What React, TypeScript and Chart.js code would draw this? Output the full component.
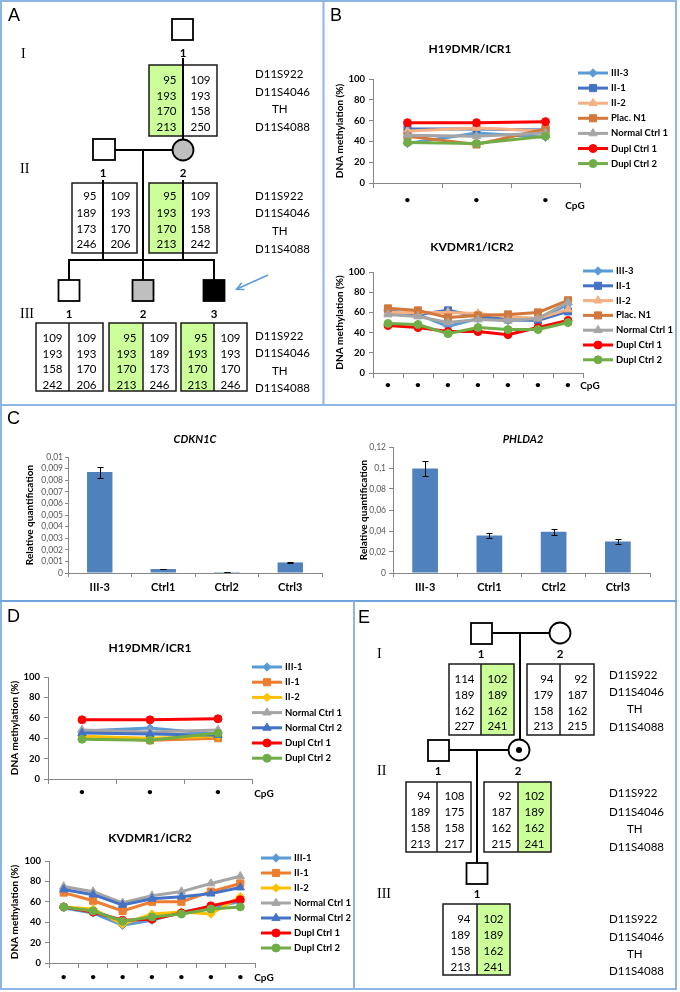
import React, { useEffect, useRef } from "react";
import { Chart, registerables } from "chart.js";
Chart.register(...registerables);

// ---------------- DATA ----------------
const cpg3 = ["•", "•", "•"];
const cpg7 = ["•", "•", "•", "•", "•", "•", "•"];

// Panel B
const bNames = ["III-3", "II-1", "II-2", "Plac. N1", "Normal Ctrl 1", "Dupl Ctrl 1", "Dupl Ctrl 2"];
const bH19_III3 = [38, 48, 44];
const bH19_II1 = [52, 52, 51];
const bH19_II2 = [50, 53, 50];
const bH19_PlacN1 = [45, 37, 52];
const bH19_Normal1 = [46, 45, 48];
const bH19_Dupl1 = [58, 58, 59];
const bH19_Dupl2 = [39, 38, 45];

const bKv_III3 = [62, 58, 46, 54, 52, 53, 68];
const bKv_II1 = [60, 58, 62, 56, 53, 52, 61];
const bKv_II2 = [60, 60, 60, 59, 56, 54, 63];
const bKv_PlacN1 = [64, 62, 55, 57, 58, 60, 72];
const bKv_Normal1 = [58, 56, 50, 53, 52, 54, 70];
const bKv_Dupl1 = [47, 45, 41, 41, 38, 45, 52];
const bKv_Dupl2 = [49, 48, 39, 45, 43, 43, 50];

// Panel D
const dNames = ["III-1", "II-1", "II-2", "Normal Ctrl 1", "Normal Ctrl 2", "Dupl Ctrl 1", "Dupl Ctrl 2"];
const dH19_III1 = [47, 50, 44];
const dH19_II1 = [41, 38, 40];
const dH19_II2 = [42, 40, 42];
const dH19_Normal1 = [48, 46, 48];
const dH19_Normal2 = [45, 44, 43];
const dH19_Dupl1 = [58, 58, 59];
const dH19_Dupl2 = [39, 38, 45];

const dKv_III1 = [54, 49, 37, 42, 50, 55, 60];
const dKv_II1 = [69, 61, 51, 60, 60, 70, 78];
const dKv_II2 = [55, 53, 38, 48, 50, 48, 65];
const dKv_Normal1 = [75, 70, 59, 66, 70, 78, 85];
const dKv_Normal2 = [72, 67, 57, 63, 65, 68, 74];
const dKv_Dupl1 = [55, 50, 42, 43, 49, 56, 62];
const dKv_Dupl2 = [55, 51, 41, 45, 48, 53, 55];

// Panel C
const qCats = ["III-3", "Ctrl1", "Ctrl2", "Ctrl3"];
const cdkn1cValues = [0.0087, 0.00034, 0.00008, 0.00091];
const cdkn1cErrors = [0.00048, 0.00003, 0.00001, 0.00005];
const phlda2Values = [0.0995, 0.0358, 0.0392, 0.0300];
const phlda2Errors = [0.0075, 0.0025, 0.0028, 0.0020];

// Pedigrees
const markerNames = ["D11S922", "D11S4046", "TH", "D11S4088"];
const aI1Left = [95, 193, 170, 213];
const aI1Right = [109, 193, 158, 250];
const aII1Left = [95, 189, 173, 246];
const aII1Right = [109, 193, 170, 206];
const aII2Left = [95, 193, 170, 213];
const aII2Right = [109, 193, 158, 242];
const aIII1Left = [109, 193, 158, 242];
const aIII1Right = [109, 193, 170, 206];
const aIII2Left = [95, 193, 170, 213];
const aIII2Right = [109, 189, 173, 246];
const aIII3Left = [95, 193, 170, 213];
const aIII3Right = [109, 193, 170, 246];

const eI1Left = [114, 189, 162, 227];
const eI1Right = [102, 189, 162, 241];
const eI2Left = [94, 179, 158, 213];
const eI2Right = [92, 187, 162, 215];
const eII1Left = [94, 189, 158, 213];
const eII1Right = [108, 175, 158, 217];
const eII2Left = [92, 187, 162, 215];
const eII2Right = [102, 189, 162, 241];
const eIII1Left = [94, 189, 158, 213];
const eIII1Right = [102, 189, 162, 241];

// ---------------- STYLES ----------------
const FONT = "Lato, 'Open Sans', 'DejaVu Sans', sans-serif";
const AXIS = "#868686";
const GREEN = "#CCFF99";
const PANEL = "#8DB4E2";
const bColors = ["#5B9BD5", "#4472C4", "#F4B183", "#D2783C", "#A5A5A5", "#FF0000", "#70AD47"];
const bStyles = ["rectRot", "rect", "triangle", "rect", "triangle", "circle", "circle"];
const dColors = ["#5B9BD5", "#ED7D31", "#FFC000", "#A5A5A5", "#4472C4", "#FF0000", "#70AD47"];
const dStyles = ["rectRot", "rect", "rectRot", "triangle", "triangle", "circle", "circle"];
const radiusFor: Record<string, number> = { circle: 4, rect: 5, triangle: 4.8, rectRot: 4.2 };

Chart.defaults.font.family = FONT;

function drawMarker(ctx: CanvasRenderingContext2D, style: string, x: number, y: number, r: number, color: string) {
  ctx.fillStyle = color;
  ctx.strokeStyle = color;
  ctx.lineWidth = 1;
  ctx.beginPath();
  if (style === "circle") ctx.arc(x, y, r, 0, Math.PI * 2);
  else if (style === "rect") {
    const s = r * Math.SQRT1_2;
    ctx.rect(x - s, y - s, 2 * s, 2 * s);
  } else if (style === "triangle") {
    ctx.moveTo(x, y - r);
    ctx.lineTo(x + r * Math.sin((2 * Math.PI) / 3), y - r * Math.cos((2 * Math.PI) / 3));
    ctx.lineTo(x + r * Math.sin((4 * Math.PI) / 3), y - r * Math.cos((4 * Math.PI) / 3));
    ctx.closePath();
  } else {
    ctx.moveTo(x, y - r);
    ctx.lineTo(x + r, y);
    ctx.lineTo(x, y + r);
    ctx.lineTo(x - r, y);
    ctx.closePath();
  }
  ctx.fill();
  ctx.stroke();
}

const lineLegendPlugin = {
  id: "lineLegend",
  afterDraw(chart: any, _args: any, opts: any) {
    const ctx = chart.ctx as CanvasRenderingContext2D;
    ctx.save();
    chart.data.datasets.forEach((ds: any, i: number) => {
      const y = opts.y + i * opts.gap;
      const x0 = opts.x;
      const x1 = opts.x + opts.lineLen;
      ctx.strokeStyle = ds.borderColor;
      ctx.lineWidth = 3;
      ctx.beginPath();
      ctx.moveTo(x0, y);
      ctx.lineTo(x1, y);
      ctx.stroke();
      drawMarker(ctx, ds.pointStyle, (x0 + x1) / 2, y, ds.pointRadius, ds.borderColor);
      ctx.fillStyle = "#000";
      ctx.font = "bold 9.5px " + FONT;
      ctx.textBaseline = "middle";
      ctx.textAlign = "left";
      ctx.fillText(ds.label, x1 + opts.textGap, y);
    });
    ctx.restore();
  },
};

const errorBarPlugin = {
  id: "errorBars",
  afterDatasetsDraw(chart: any) {
    const ctx = chart.ctx as CanvasRenderingContext2D;
    const ds = chart.data.datasets[0];
    const meta = chart.getDatasetMeta(0);
    const ys = chart.scales.y;
    ctx.save();
    ctx.strokeStyle = "#000";
    ctx.lineWidth = 1;
    meta.data.forEach((bar: any, i: number) => {
      const v = ds.data[i];
      const e = ds.errorBars[i];
      const yt = Math.round(ys.getPixelForValue(v + e)) + 0.5;
      const yb = Math.round(ys.getPixelForValue(Math.max(v - e, 0))) + 0.5;
      const x = Math.round(bar.x) + 0.5;
      ctx.beginPath();
      ctx.moveTo(x, yt);
      ctx.lineTo(x, yb);
      ctx.moveTo(x - 3, yt);
      ctx.lineTo(x + 3, yt);
      ctx.moveTo(x - 3, yb);
      ctx.lineTo(x + 3, yb);
      ctx.stroke();
    });
    ctx.restore();
  },
};

function makeDatasets(names: string[], series: number[][], colors: string[], styles: string[]) {
  const n = names.length;
  return names.map((name, i) => ({
    label: name,
    data: series[i],
    borderColor: colors[i],
    backgroundColor: colors[i],
    pointBackgroundColor: colors[i],
    pointBorderColor: colors[i],
    pointStyle: styles[i],
    pointRadius: radiusFor[styles[i]],
    pointBorderWidth: 1,
    borderWidth: 3,
    tension: 0,
    fill: false,
    order: n - i,
  }));
}

type LineGeom = { padL: number; yW: number; padR: number; padT: number; xH: number; xPad: number; lx: number; ly: number; gap: number };

function lineConfig(labels: string[], datasets: any[], g: LineGeom) {
  return {
    type: "line",
    data: { labels, datasets },
    options: {
      animation: false,
      responsive: false,
      devicePixelRatio: 1,
      layout: { padding: { left: g.padL, right: g.padR, top: g.padT, bottom: 0 } },
      plugins: {
        legend: { display: false },
        title: { display: false },
        tooltip: { enabled: false },
        lineLegend: { x: g.lx, y: g.ly, gap: g.gap, lineLen: 30, textGap: 3 },
      },
      scales: {
        x: {
          type: "category",
          offset: true,
          grid: { offset: true, drawOnChartArea: false, drawTicks: true, tickLength: 5, color: AXIS },
          border: { display: true, color: AXIS, width: 1 },
          ticks: { font: { size: 10, weight: "bold" }, color: "#000", padding: g.xPad, autoSkip: false, maxRotation: 0 },
          afterFit: (s: any) => { s.height = g.xH; },
        },
        y: {
          min: 0,
          max: 100,
          grid: { drawOnChartArea: false, drawTicks: true, tickLength: 4, color: AXIS },
          border: { display: true, color: AXIS, width: 1 },
          ticks: { stepSize: 20, font: { size: 9.5, weight: "bold" }, color: "#000", padding: 4, autoSkip: false },
          title: { display: true, text: "DNA methylation (%)", font: { size: 10, weight: "bold" }, color: "#000", padding: 0 },
          afterFit: (s: any) => { s.width = g.yW; },
        },
      },
    },
    plugins: [lineLegendPlugin],
  };
}

type BarGeom = { padL: number; yW: number; padR: number; padT: number; xH: number; max: number; step: number; tl: number; tp: number };

function fmtComma(v: number) {
  return String(Number(Number(v).toFixed(4))).replace(".", ",");
}

function barConfig(values: number[], errors: number[], g: BarGeom) {
  return {
    type: "bar",
    data: {
      labels: qCats,
      datasets: [
        {
          data: values,
          errorBars: errors,
          backgroundColor: "#4F81BD",
          borderColor: "#4A7EBB",
          borderWidth: 0,
          barPercentage: 0.4,
          categoryPercentage: 1,
        },
      ],
    },
    options: {
      animation: false,
      responsive: false,
      devicePixelRatio: 1,
      layout: { padding: { left: g.padL, right: g.padR, top: g.padT, bottom: 0 } },
      plugins: { legend: { display: false }, title: { display: false }, tooltip: { enabled: false } },
      scales: {
        x: {
          offset: true,
          grid: { offset: true, drawOnChartArea: false, drawTicks: true, tickLength: 4, color: AXIS },
          border: { display: true, color: AXIS, width: 1 },
          ticks: { font: { size: 11, weight: "bold" }, color: "#000", padding: 4, autoSkip: false, maxRotation: 0 },
          afterFit: (s: any) => { s.height = g.xH; },
        },
        y: {
          min: 0,
          max: g.max,
          grid: { drawOnChartArea: false, drawTicks: true, tickLength: g.tl, color: AXIS },
          border: { display: true, color: AXIS, width: 1 },
          ticks: { stepSize: g.step, font: { size: 8.5 }, color: "#595959", padding: g.tp, autoSkip: false, callback: (v: any) => fmtComma(v) },
          title: { display: true, text: "Relative quantification", font: { size: 10, weight: "bold" }, color: "#000", padding: 0 },
          afterFit: (s: any) => { s.width = g.yW; },
        },
      },
    },
    plugins: [errorBarPlugin],
  };
}

function ChartBox({ left, top, width, height, make }: { left: number; top: number; width: number; height: number; make: () => any }) {
  const ref = useRef<HTMLCanvasElement>(null);
  useEffect(() => {
    const chart = new Chart(ref.current as HTMLCanvasElement, make());
    return () => chart.destroy();
  }, []);
  return (
    <canvas
      ref={ref}
      width={width}
      height={height}
      style={{ position: "absolute", left, top, width, height, display: "block" }}
    />
  );
}

const makeBH19 = () =>
  lineConfig(
    cpg3,
    makeDatasets(bNames, [bH19_III3, bH19_II1, bH19_II2, bH19_PlacN1, bH19_Normal1, bH19_Dupl1, bH19_Dupl2], bColors, bStyles),
    { padL: 8, yW: 39, padR: 96, padT: 19, xH: 27, xPad: 6, lx: 252, ly: 13, gap: 15.1 }
  );
const makeBKv = () =>
  lineConfig(
    cpg7,
    makeDatasets(bNames, [bKv_III3, bKv_II1, bKv_II2, bKv_PlacN1, bKv_Normal1, bKv_Dupl1, bKv_Dupl2], bColors, bStyles),
    { padL: 8, yW: 39, padR: 93, padT: 22, xH: 27, xPad: 1, lx: 257, ly: 21, gap: 14.8 }
  );
const makeDH19 = () =>
  lineConfig(
    cpg3,
    makeDatasets(dNames, [dH19_III1, dH19_II1, dH19_II2, dH19_Normal1, dH19_Normal2, dH19_Dupl1, dH19_Dupl2], dColors, dStyles),
    { padL: 7, yW: 39, padR: 101, padT: 27, xH: 21, xPad: 2, lx: 250, ly: 17, gap: 15.2 }
  );
const makeDKv = () =>
  lineConfig(
    cpg7,
    makeDatasets(dNames, [dKv_III1, dKv_II1, dKv_II2, dKv_Normal1, dKv_Normal2, dKv_Dupl1, dKv_Dupl2], dColors, dStyles),
    { padL: 7, yW: 40, padR: 98, padT: 21, xH: 25, xPad: 3, lx: 259, ly: 18, gap: 15 }
  );
const makeCdkn = () =>
  barConfig(cdkn1cValues, cdkn1cErrors, { padL: 16, yW: 44, padR: 18, padT: 27, xH: 25, max: 0.01, step: 0.001, tl: 3, tp: 2 });
const makePhlda = () =>
  barConfig(phlda2Values, phlda2Errors, { padL: 15, yW: 35, padR: 25, padT: 17, xH: 25, max: 0.12, step: 0.02, tl: 4, tp: 3 });

// ---------------- PEDIGREE PIECES ----------------
function AlleleBox({ x0, x1, xd, y0, y1, rows, left, right, green }: any) {
  return (
    <g>
      {green === "left" && <rect x={x0} y={y0} width={xd - x0} height={y1 - y0} fill={GREEN} />}
      {green === "right" && <rect x={xd} y={y0} width={x1 - xd} height={y1 - y0} fill={GREEN} />}
      <rect x={x0} y={y0} width={x1 - x0} height={y1 - y0} fill="none" stroke="#1a1a1a" strokeWidth={1.5} />
      <line x1={xd} y1={y0} x2={xd} y2={y1} stroke="#1a1a1a" strokeWidth={1.5} />
      {left.map((v: number, i: number) => (
        <text key={"l" + i} x={xd - 6.5} y={rows[i]} textAnchor="end" dominantBaseline="central">{v}</text>
      ))}
      {right.map((v: number, i: number) => (
        <text key={"r" + i} x={x1 - 6.5} y={rows[i]} textAnchor="end" dominantBaseline="central">{v}</text>
      ))}
    </g>
  );
}

function Markers({ x, thX, ys }: { x: number; thX: number; ys: number[] }) {
  return (
    <g>
      {markerNames.map((m, i) => (
        <text key={m} x={m === "TH" ? thX : x} y={ys[i]} dominantBaseline="central">{m}</text>
      ))}
    </g>
  );
}

const ROMAN: React.CSSProperties = { fontFamily: "'Liberation Serif', 'DejaVu Serif', serif", fontSize: 14 };
const NUM: any = { fontWeight: "bold", textAnchor: "middle", dominantBaseline: "central" };
const LN = { stroke: "#000", strokeWidth: 2 };

function PedigreeA() {
  return (
    <g>
      <text x={21} y={53} style={ROMAN} dominantBaseline="central">I</text>
      <text x={20} y={168} style={ROMAN} dominantBaseline="central">II</text>
      <text x={20} y={313} style={ROMAN} dominantBaseline="central">III</text>

      <rect x={172} y={19} width={21} height={21} fill="#fff" stroke="#000" strokeWidth={1.8} />
      <text x={183} y={52} {...NUM}>1</text>
      <AlleleBox x0={149} x1={217} xd={183} y0={65} y1={136} rows={[79, 95, 110, 126]} left={aI1Left} right={aI1Right} green="left" />
      <line x1={183} y1={58} x2={183} y2={140} {...LN} />
      <Markers x={255} thX={272} ys={[73, 91, 108, 126]} />

      <line x1={115} y1={150} x2={173} y2={150} {...LN} />
      <line x1={143} y1={150} x2={143} y2={260} {...LN} />
      <rect x={93} y={139} width={22} height={21} fill="#fff" stroke="#000" strokeWidth={1.8} />
      <circle cx={183} cy={150} r={10.5} fill="#BFBFBF" stroke="#000" strokeWidth={1.8} />
      <text x={103} y={172} {...NUM}>1</text>
      <text x={183} y={172} {...NUM}>2</text>
      <AlleleBox x0={72} x1={137} xd={103} y0={183} y1={253} rows={[195, 212, 228, 243]} left={aII1Left} right={aII1Right} green="none" />
      <AlleleBox x0={149} x1={217} xd={183} y0={183} y1={253} rows={[195, 212, 228, 243]} left={aII2Left} right={aII2Right} green="left" />
      <line x1={103} y1={180} x2={103} y2={260} {...LN} />
      <line x1={183} y1={180} x2={183} y2={260} {...LN} />
      <Markers x={255} thX={272} ys={[195, 212, 230, 248]} />

      <line x1={68} y1={260} x2={215} y2={260} {...LN} />
      <line x1={69} y1={260} x2={69} y2={280} {...LN} />
      <line x1={143} y1={260} x2={143} y2={280} {...LN} />
      <line x1={214} y1={260} x2={214} y2={280} {...LN} />
      <rect x={58.5} y={280} width={21} height={21} fill="#fff" stroke="#000" strokeWidth={1.8} />
      <rect x={132.5} y={280} width={21} height={21} fill="#BFBFBF" stroke="#000" strokeWidth={1.8} />
      <rect x={203.5} y={280} width={21} height={21} fill="#000" stroke="#000" strokeWidth={1.8} />
      <line x1={268} y1={275} x2={237} y2={289} stroke="#5B9BD5" strokeWidth={1.5} />
      <polyline points="244.5,289.5 236.5,289.2 241.7,282.8" fill="none" stroke="#5B9BD5" strokeWidth={1.5} />
      <text x={69} y={313} {...NUM}>1</text>
      <text x={143} y={313} {...NUM}>2</text>
      <text x={214} y={313} {...NUM}>3</text>
      <AlleleBox x0={36} x1={103} xd={69} y0={323} y1={391} rows={[337, 353, 368, 384]} left={aIII1Left} right={aIII1Right} green="none" />
      <AlleleBox x0={109} x1={176} xd={143} y0={323} y1={391} rows={[337, 353, 368, 384]} left={aIII2Left} right={aIII2Right} green="left" />
      <AlleleBox x0={181} x1={247} xd={214} y0={323} y1={391} rows={[337, 353, 368, 384]} left={aIII3Left} right={aIII3Right} green="left" />
      <Markers x={255} thX={272} ys={[335, 352, 370, 387]} />
    </g>
  );
}

function PedigreeE() {
  return (
    <g>
      <text x={377} y={653} style={ROMAN} dominantBaseline="central">I</text>
      <text x={377} y={770} style={ROMAN} dominantBaseline="central">II</text>
      <text x={377} y={893} style={ROMAN} dominantBaseline="central">III</text>

      <line x1={492} y1={633} x2={550} y2={633} {...LN} />
      <line x1={520} y1={633} x2={520} y2={740} {...LN} />
      <rect x={471} y={623} width={21} height={21} fill="#fff" stroke="#000" strokeWidth={1.8} />
      <circle cx={560} cy={633} r={10.5} fill="#fff" stroke="#000" strokeWidth={1.8} />
      <text x={481} y={653} {...NUM}>1</text>
      <text x={560} y={653} {...NUM}>2</text>
      <AlleleBox x0={449} x1={514} xd={481} y0={664} y1={735} rows={[678, 694, 710, 725]} left={eI1Left} right={eI1Right} green="right" />
      <AlleleBox x0={527} x1={594} xd={560} y0={664} y1={735} rows={[678, 694, 710, 725]} left={eI2Left} right={eI2Right} green="none" />
      <Markers x={609} thX={627} ys={[674, 691, 708, 726]} />

      <line x1={449} y1={750} x2={509} y2={750} {...LN} />
      <line x1={477} y1={750} x2={477} y2={863} {...LN} />
      <rect x={428} y={740} width={21} height={21} fill="#fff" stroke="#000" strokeWidth={1.8} />
      <circle cx={519} cy={750} r={10.5} fill="#fff" stroke="#000" strokeWidth={1.8} />
      <circle cx={519} cy={750} r={3} fill="#000" />
      <text x={438} y={770} {...NUM}>1</text>
      <text x={518} y={770} {...NUM}>2</text>
      <AlleleBox x0={406} x1={471} xd={437} y0={782} y1={852} rows={[795, 811, 827, 843]} left={eII1Left} right={eII1Right} green="none" />
      <AlleleBox x0={484} x1={551} xd={518} y0={782} y1={852} rows={[795, 811, 827, 843]} left={eII2Left} right={eII2Right} green="right" />
      <Markers x={609} thX={627} ys={[792, 811, 828, 846]} />

      <rect x={466.5} y={863} width={21} height={21} fill="#fff" stroke="#000" strokeWidth={1.8} />
      <text x={477} y={893} {...NUM}>1</text>
      <AlleleBox x0={443} x1={510} xd={477} y0={904} y1={975} rows={[918, 934, 950, 966]} left={eIII1Left} right={eIII1Right} green="right" />
      <Markers x={609} thX={627} ys={[918, 936, 953, 970]} />
    </g>
  );
}

const LETTER: React.CSSProperties = { fontFamily: "'Liberation Sans', Arial, sans-serif", fontSize: 18 };
const CTITLE: any = { fontWeight: "bold", fontSize: 12, textAnchor: "middle", dominantBaseline: "central" };
const CPG: any = { fontWeight: "bold", fontSize: 10, textAnchor: "middle", dominantBaseline: "central" };

export default function App() {
  return (
    <div style={{ position: "absolute", left: 0, top: 0, width: 680, height: 992, background: "#fff", overflow: "hidden" }}>
      <ChartBox left={326} top={60} width={350} height={150} make={makeBH19} />
      <ChartBox left={326} top={250} width={350} height={150} make={makeBKv} />
      <ChartBox left={8} top={430} width={332} height={168} make={makeCdkn} />
      <ChartBox left={343} top={430} width={332} height={168} make={makePhlda} />
      <ChartBox left={2} top={650} width={351} height={150} make={makeDH19} />
      <ChartBox left={2} top={840} width={351} height={148} make={makeDKv} />
      <svg width={680} height={992} style={{ position: "absolute", left: 0, top: 0, pointerEvents: "none" }}>
        <g style={{ fontFamily: FONT, fontSize: 11.5 }} fill="#000">
          {/* panel frame */}
          <g stroke={PANEL} strokeWidth={2}>
            <line x1={0} y1={1} x2={677} y2={1} />
            <line x1={1} y1={0} x2={1} y2={990} />
            <line x1={676} y1={0} x2={676} y2={990} />
            <line x1={0} y1={989} x2={677} y2={989} />
            <line x1={323.5} y1={0} x2={323.5} y2={405} />
            <line x1={0} y1={405} x2={677} y2={405} />
            <line x1={0} y1={601} x2={677} y2={601} stroke="#6FA3DC" />
            <line x1={354} y1={601} x2={354} y2={990} />
          </g>
          <text x={8} y={21} style={LETTER}>A</text>
          <text x={330} y={21} style={LETTER}>B</text>
          <text x={7} y={424} style={LETTER}>C</text>
          <text x={7} y={622} style={LETTER}>D</text>
          <text x={358} y={623} style={LETTER}>E</text>

          <PedigreeA />
          <PedigreeE />

          <text x={470} y={48} {...CTITLE}>H19DMR/ICR1</text>
          <text x={472} y={246} {...CTITLE}>KVDMR1/ICR2</text>
          <text x={150} y={647} {...CTITLE}>H19DMR/ICR1</text>
          <text x={150} y={837} {...CTITLE}>KVDMR1/ICR2</text>
          <text x={195} y={438} {...CTITLE} fontSize={11} fontStyle="italic">CDKN1C</text>
          <text x={523} y={438} {...CTITLE} fontSize={11} fontStyle="italic">PHLDA2</text>

          <text x={575} y={205} {...CPG}>CpG</text>
          <text x={590} y={385} {...CPG}>CpG</text>
          <text x={264} y={793} {...CPG}>CpG</text>
          <text x={264} y={977} {...CPG}>CpG</text>
        </g>
      </svg>
    </div>
  );
}
